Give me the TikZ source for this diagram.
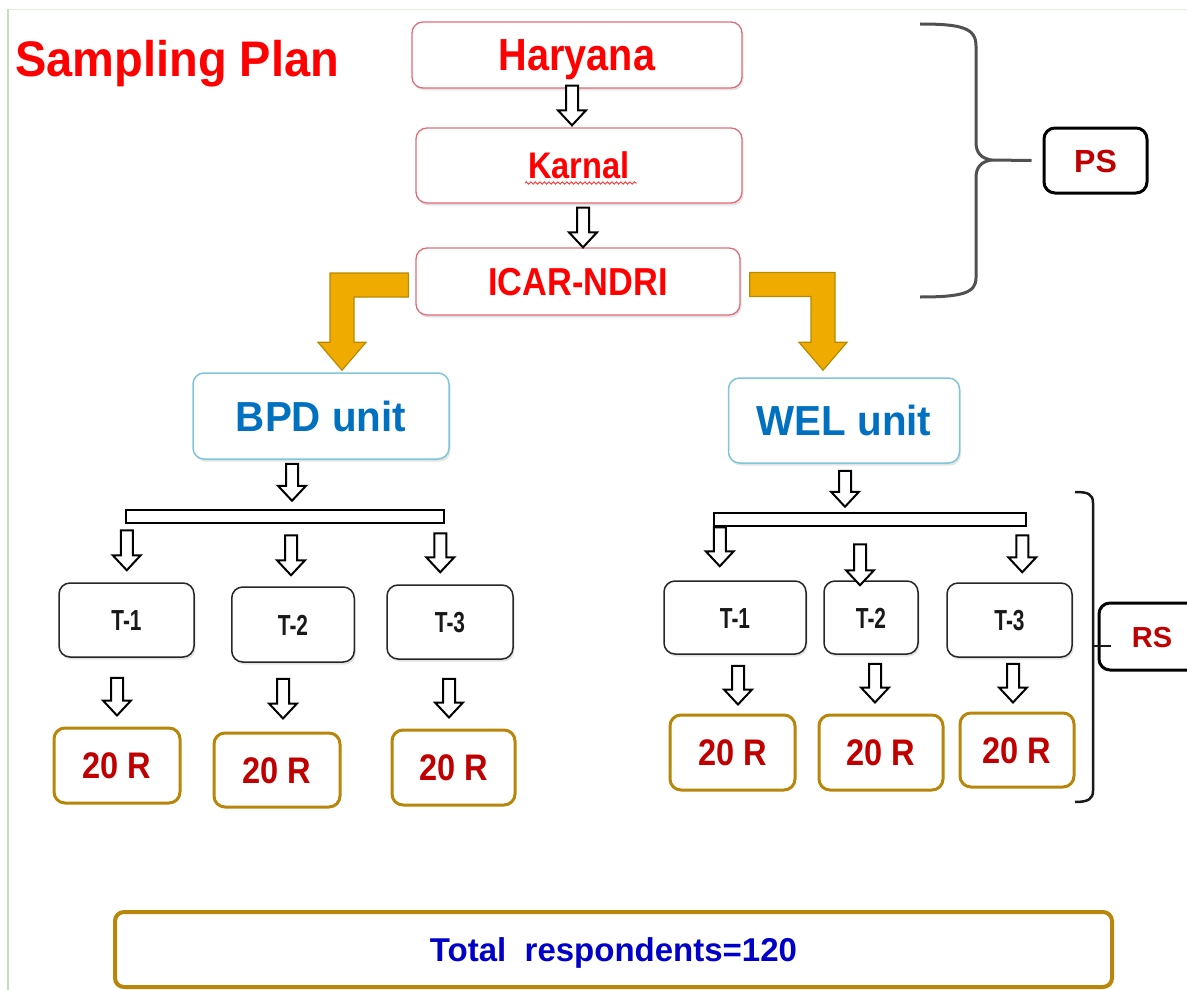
\documentclass[tikz,border=0pt]{standalone}
\usepackage{fontspec}
\setmainfont{Liberation Sans}
\newfontfamily\titlefont[FakeStretch=0.94]{Liberation Sans}
\newfontfamily\condfont[FakeStretch=0.88]{Liberation Sans}
\newfontfamily\unitfont[FakeStretch=0.96]{Liberation Sans}
\newfontfamily\tfont[FakeStretch=0.72]{Liberation Sans}
\usetikzlibrary{calc,shadows,decorations.pathmorphing}
\definecolor{redtxt}{HTML}{FF0000}
\definecolor{darkred}{HTML}{C00000}
\definecolor{pinkline}{HTML}{E36C7A}
\definecolor{blueline}{HTML}{7FC6DA}
\definecolor{unitblue}{HTML}{0070C0}
\definecolor{goldfill}{HTML}{F0AB00}
\definecolor{goldline}{HTML}{B88A00}
\definecolor{brownline}{HTML}{B8860B}
\definecolor{totalblue}{HTML}{0000C8}
\definecolor{braceg}{HTML}{505050}
\definecolor{greenl}{HTML}{C5E0B3}
\definecolor{greenl2}{HTML}{E2F0D9}
\begin{document}
\begin{tikzpicture}[x=1pt,y=-1pt,
  capht/.style={text height=#1, text depth=0pt},
  boxbase/.style={rounded corners=11pt, fill=white, inner sep=0pt, align=center},
  shad/.style={drop shadow={shadow xshift=1.5pt, shadow yshift=-2.5pt, opacity=0.22}},
  redbox/.style={boxbase, shad, draw=pinkline, line width=1.3pt, text=redtxt, font=\condfont\bfseries},
  unitbox/.style={boxbase, shad, draw=blueline, line width=1.5pt, text=unitblue, font=\unitfont\bfseries},
  tbox/.style={boxbase, shad, draw=black!85, line width=1.5pt, text=black!90, font=\tfont\bfseries},
  rbox/.style={boxbase, draw=brownline, line width=3pt, text=darkred, font=\condfont\bfseries},
  labbox/.style={boxbase, draw=black, line width=3pt, text=darkred, font=\bfseries},
  totbox/.style={boxbase, draw=brownline, line width=4pt, rounded corners=9pt, text=totalblue, font=\bfseries},
  barbox/.style={draw=black, line width=2.5pt, fill=white, inner sep=0pt},
  harrow/.style={draw=black, line width=2pt, fill=white, line join=miter,
    to path={let \p1=(\tikztostart), \p2=(\tikztotarget) in
      (\x1-6pt,\y1) -- (\x1-6pt,\y2+15pt) -- (\x1-14pt,\y2+15pt) -- (\x1,\y2)
      -- (\x1+14pt,\y2+15pt) -- (\x1+6pt,\y2+15pt) -- (\x1+6pt,\y1) -- cycle}},
  goldL/.style={draw=goldline, line width=1.2pt, fill=goldfill, line join=miter,
    to path={let \p1=(\tikztostart), \p2=(\tikztotarget) in
      (\x1,\y1+12pt) -- (\x2-12pt,\y1+12pt) -- (\x2-12pt,\y2+28pt) -- (\x2-24pt,\y2+28pt)
      -- (\x2,\y2) -- (\x2+24pt,\y2+28pt) -- (\x2+12pt,\y2+28pt) -- (\x2+12pt,\y1-12pt)
      -- (\x1,\y1-12pt) -- cycle}},
  goldR/.style={draw=goldline, line width=1.2pt, fill=goldfill, line join=miter,
    to path={let \p1=(\tikztostart), \p2=(\tikztotarget) in
      (\x1,\y1+12pt) -- (\x2+12pt,\y1+12pt) -- (\x2+12pt,\y2+28pt) -- (\x2+24pt,\y2+28pt)
      -- (\x2,\y2) -- (\x2-24pt,\y2+28pt) -- (\x2-12pt,\y2+28pt) -- (\x2-12pt,\y1-12pt)
      -- (\x1,\y1-12pt) -- cycle}},
  bracestyle/.style={draw=braceg, line width=3pt},
  rsbrace/.style={draw=black!90, line width=2.5pt}
]
\clip (0,0) rectangle (1187,990);
\fill[white] (0,0) rectangle (1187,990);
\draw[greenl2, line width=1.5pt] (7.5,9.5) -- (1187,9.5);
\draw[greenl, line width=2pt] (7.5,9.5) -- (7.5,990);

% title
\node[anchor=west, inner sep=0pt, capht=36pt, text=redtxt, font=\titlefont\bfseries] (title) at (15,58.5)
  {\fontsize{50pt}{55pt}\selectfont Sampling Plan};

% top chain
\node[redbox, capht=32pt, minimum width=330pt, minimum height=66pt] (haryana) at (577,55)
  {\fontsize{45pt}{50pt}\selectfont Haryana};
\node[redbox, capht=26.5pt, minimum width=326pt, minimum height=75pt] (karnal) at (579,165.5)
  {\fontsize{37pt}{42pt}\selectfont Karnal};
\node[redbox, capht=28pt, minimum width=324pt, minimum height=67pt] (icar) at (578,281.5)
  {\fontsize{39pt}{44pt}\selectfont ICAR-NDRI};
\draw[red!80, line width=0.9pt, decorate, decoration={snake, amplitude=1.2pt, segment length=4.5pt}]
  ([xshift=-54pt,yshift=-17.5pt]karnal.center) -- ([xshift=58pt,yshift=-17.5pt]karnal.center);

% PS
\node[labbox, capht=23pt, minimum width=103pt, minimum height=65pt] (ps) at (1095.5,160.5)
  {\fontsize{32pt}{36pt}\selectfont PS};

% units
\node[unitbox, capht=30pt, minimum width=256pt, minimum height=86pt] (bpd) at (321,416)
  {\fontsize{42pt}{46pt}\selectfont BPD unit};
\node[unitbox, capht=30pt, minimum width=231pt, minimum height=85pt] (wel) at (844,420.5)
  {\fontsize{42pt}{46pt}\selectfont WEL unit};

% bars
\node[barbox, minimum width=318pt, minimum height=13pt] (lbar) at (285,516.5) {};
\node[barbox, minimum width=312pt, minimum height=13pt] (rbar) at (870,519.5) {};

% T boxes left
\node[tbox, capht=21pt, minimum width=135pt, minimum height=74pt] (lt1) at (126.5,620) {\fontsize{29pt}{32pt}\selectfont T-1};
\node[tbox, capht=21pt, minimum width=122.5pt, minimum height=75pt] (lt2) at (293,624.5) {\fontsize{29pt}{32pt}\selectfont T-2};
\node[tbox, capht=21pt, minimum width=126pt, minimum height=74pt] (lt3) at (450,622) {\fontsize{29pt}{32pt}\selectfont T-3};
% T boxes right
\node[tbox, capht=21pt, minimum width=142pt, minimum height=73pt] (rt1) at (735,617.5) {\fontsize{29pt}{32pt}\selectfont T-1};
\node[tbox, capht=21pt, minimum width=94pt, minimum height=73pt] (rt2) at (871,617.5) {\fontsize{29pt}{32pt}\selectfont T-2};
\node[tbox, capht=21pt, minimum width=125pt, minimum height=74pt] (rt3) at (1009.5,620) {\fontsize{29pt}{32pt}\selectfont T-3};

% 20 R boxes
\node[rbox, capht=26.5pt, minimum width=126pt, minimum height=75pt] (lr1) at (117,765.5) {\fontsize{37pt}{42pt}\selectfont 20 R};
\node[rbox, capht=26.5pt, minimum width=126pt, minimum height=74pt] (lr2) at (277,770) {\fontsize{37pt}{42pt}\selectfont 20 R};
\node[rbox, capht=26.5pt, minimum width=123pt, minimum height=75pt] (lr3) at (453.5,767.5) {\fontsize{37pt}{42pt}\selectfont 20 R};
\node[rbox, capht=26.5pt, minimum width=125pt, minimum height=75pt] (rr1) at (732.5,752.5) {\fontsize{37pt}{42pt}\selectfont 20 R};
\node[rbox, capht=26.5pt, minimum width=124pt, minimum height=75pt] (rr2) at (881,752.5) {\fontsize{37pt}{42pt}\selectfont 20 R};
\node[rbox, capht=26.5pt, minimum width=114pt, minimum height=74pt] (rr3) at (1017,750) {\fontsize{37pt}{42pt}\selectfont 20 R};

% RS
\node[labbox, capht=21pt, minimum width=106pt, minimum height=67pt] (rs) at (1152,636.5)
  {\fontsize{29pt}{33pt}\selectfont RS};

% total
\node[totbox, capht=24pt, minimum width=997pt, minimum height=75pt] (total) at (613.5,949.5)
  {\fontsize{33pt}{37pt}\selectfont Total~ respondents=120};

% hollow block arrows
\draw[harrow] ([xshift=-5pt,yshift=3pt]haryana.south) to ([yshift=2pt]karnal.north);
\draw[harrow] ([xshift=4pt,yshift=-4pt]karnal.south) to (icar.north);
\draw[harrow] ([xshift=-29pt,yshift=-4pt]bpd.south) to ([yshift=8pt]lbar.north);
\draw[harrow] ([xshift=2pt,yshift=-6pt]lbar.south west) to ([yshift=12pt]lt1.north);
\draw[harrow] ([xshift=6pt,yshift=-11pt]lbar.south) to ([yshift=11pt]lt2.north);
\draw[harrow] ([xshift=-5pt,yshift=-9pt]lbar.south east) to ([yshift=12pt]lt3.north);
\draw[harrow] ([xshift=-9.5pt,yshift=-20pt]lt1.south) to ([yshift=11pt]lr1.north);
\draw[harrow] ([xshift=-10pt,yshift=-16pt]lt2.south) to ([yshift=13pt]lr2.north);
\draw[harrow] ([xshift=-1pt,yshift=-19pt]lt3.south) to ([yshift=11pt]lr3.north);
\draw[harrow] ([xshift=1pt,yshift=-7pt]wel.south) to ([yshift=5pt]rbar.north);
\draw[harrow] ([xshift=7pt]rbar.south west) to ([yshift=14pt]rt1.north);
\draw[harrow] ([xshift=-10pt,yshift=-17pt]rbar.south) to ([yshift=-5pt]rt2.north);
\draw[harrow] ([xshift=-5pt,yshift=-8pt]rbar.south east) to ([yshift=10pt]rt3.north);
\draw[harrow] ([xshift=3pt,yshift=-11pt]rt1.south) to ([yshift=9pt]rr1.north);
\draw[harrow] ([xshift=4pt,yshift=-9pt]rt2.south) to ([yshift=11pt]rr2.north);
\draw[harrow] ([xshift=3.5pt,yshift=-6pt]rt3.south) to ([yshift=9pt]rr3.north);

% gold elbow arrows
\draw[goldL] ([xshift=-7pt,yshift=-3.5pt]icar.west) to ([xshift=21pt,yshift=2pt]bpd.north);
\draw[goldR] ([xshift=9pt,yshift=-3pt]icar.east) to ([xshift=-21pt,yshift=7pt]wel.north);

% PS brace
\draw[bracestyle] (920,24) .. controls (962,24) and (976,28) .. (976,46) -- (976,142)
  .. controls (976,153) and (981,158) .. (991,160)
  .. controls (981,162) and (976,167) .. (976,178) -- (976,278)
  .. controls (976,293) and (962,297) .. (920,297);
\coordinate (pscusp) at (991,160);
\draw[bracestyle] (pscusp) -- ([xshift=-11pt]ps.west);

% RS bracket
\draw[rsbrace] (1075,492) .. controls (1088,492) and (1093,494) .. (1093,503) -- (1093,791)
  .. controls (1093,799) and (1088,802) .. (1075,802);
\coordinate (rscusp) at (1093,646);
\draw[rsbrace] (rscusp) -- ([xshift=13pt,yshift=-9.5pt]rs.west);
\end{tikzpicture}
\end{document}
